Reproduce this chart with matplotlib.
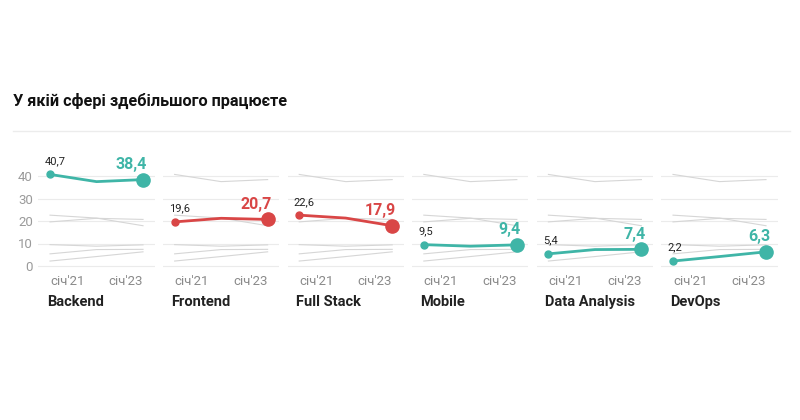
import matplotlib
matplotlib.use("Agg")
import matplotlib.pyplot as plt
from matplotlib.transforms import blended_transform_factory

plt.rcParams['font.family'] = ['Roboto', 'DejaVu Sans']

categories = ["Backend", "Frontend", "Full Stack", "Mobile", "Data Analysis", "DevOps"]
# shares (%) at січ'21, січ'22, січ'23
values = [
    [40.7, 37.5, 38.4],
    [19.6, 21.2, 20.7],
    [22.6, 21.3, 17.9],
    [9.5, 8.8, 9.4],
    [5.4, 7.3, 7.4],
    [2.2, 4.2, 6.3],
]
highlight = ["teal", "red", "red", "teal", "teal", "teal"]
x_labels = ["січ'21", "січ'23"]
y_ticks = [0, 10, 20, 30, 40]
title = "У якій сфері здебільшого працюєте"

colors = {"teal": "#3fb5a7", "red": "#d94646"}
xs = [0, 1, 2]

fig = plt.figure(figsize=(8, 4.2), dpi=100)
fig.patch.set_facecolor("white")

fig.text(13 / 800, 1 - 101 / 420, title, fontsize=11.7, fontweight="bold",
         color="#111111", ha="left", va="center")
fig.add_artist(plt.Line2D([13 / 800, 790 / 800], [1 - 131 / 420] * 2,
                          color="#ececec", lw=1, transform=fig.transFigure))

W = 116.25
for i, cat in enumerate(categories):
    left = (38.4 + 124.6 * i) / 800
    ax = fig.add_axes([left, (420 - 270.5) / 420, W / 800, 108 / 420])
    ax.set_xlim(-0.25, 2.25)
    ax.set_ylim(-2, 46)
    for s in ax.spines.values():
        s.set_visible(False)
    for t in y_ticks:
        ax.axhline(t, color="#ebebeb", lw=0.8, zorder=0)
    for j, v in enumerate(values):
        if j != i:
            ax.plot(xs, v, color="#d6d6d6", lw=0.8, zorder=1)
    c = colors[highlight[i]]
    v = values[i]
    ax.plot(xs, v, color=c, lw=2, zorder=3, solid_capstyle="round")
    ax.plot(xs[0], v[0], "o", color=c, ms=5, zorder=4)
    ax.plot(xs[-1], v[-1], "o", color=c, ms=9.5, zorder=4)
    ax.annotate(f"{v[0]:.1f}".replace(".", ","), (xs[0], v[0]), xytext=(-4, 6),
                textcoords="offset points", fontsize=8, color="#222222",
                ha="left", va="bottom")
    ax.annotate(f"{v[-1]:.1f}".replace(".", ","), (xs[-1], v[-1]), xytext=(3, 5.5),
                textcoords="offset points", fontsize=11.5, fontweight="bold",
                color=c, ha="right", va="bottom")
    ax.set_xticks([0, 2])
    ax.set_xticklabels(x_labels, fontsize=9.5, color="#8a8a8a")
    xl = ax.get_xticklabels()
    xl[0].set_ha("left")
    xl[1].set_ha("right")
    ax.tick_params(axis="x", length=0, pad=3)
    if i == 0:
        ax.set_yticks(y_ticks)
        ax.set_yticklabels([str(t) for t in y_ticks], fontsize=9.5, color="#9a9a9a")
        ax.tick_params(axis="y", length=0, pad=4)
    else:
        ax.set_yticks([])
    trans = blended_transform_factory(ax.transData, ax.transAxes)
    ax.text(-0.07, -0.29, cat, transform=trans, fontsize=10.5,
            fontweight="bold", color="#222222", ha="left", va="center")

fig.savefig("out.png", dpi=100, facecolor="white")
